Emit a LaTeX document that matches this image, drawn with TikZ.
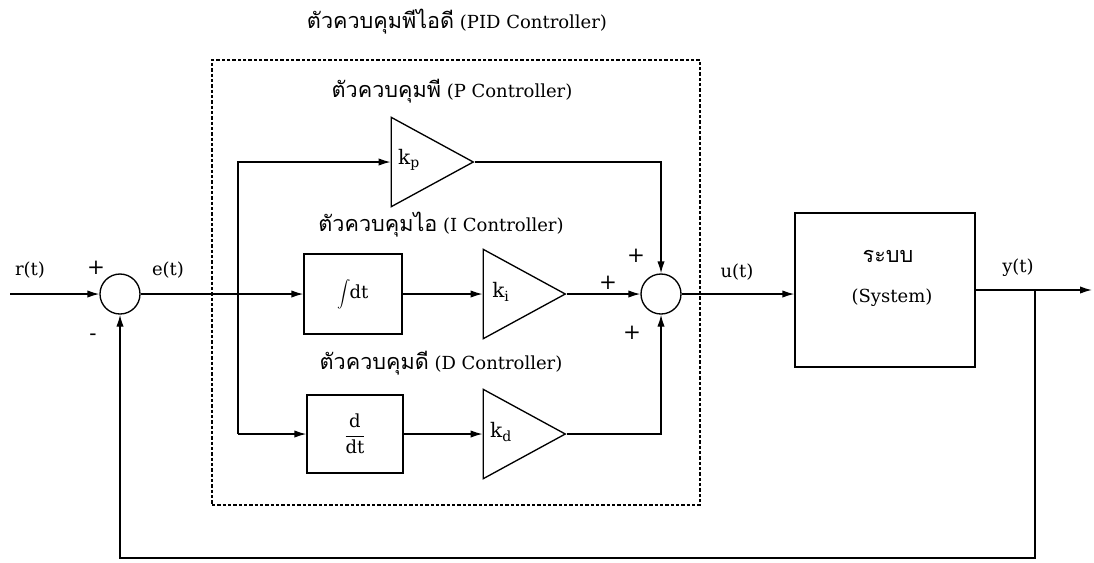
\documentclass[tikz,border=0pt]{standalone}
\usepackage{fontspec}
\setmainfont{DejaVu Serif}
\newfontfamily\thaifont[Script=Thai,Scale=1.2]{Loma}
\usetikzlibrary{arrows.meta,shapes.geometric}
\begin{document}
\begin{tikzpicture}[x=0.75pt,y=-0.75pt,
  every node/.style={font=\fontsize{13.5}{16}\selectfont},
  ln/.style={line width=1pt},
  arr/.style={ln,-{Latex[length=9pt,width=5.5pt]}},
  sumj/.style={circle,draw,line width=1pt,minimum size=30pt,inner sep=0pt},
  blk/.style={rectangle,draw,line width=1pt,inner sep=0pt},
  amp/.style={isosceles triangle,isosceles triangle stretches,shape border rotate=0,draw,line width=1pt,inner sep=0pt,minimum width=67pt,minimum height=61.5pt},
  lbl/.style={inner sep=1pt},
  gain/.style={inner sep=1pt,font=\fontsize{15}{16}\selectfont},
  sgn/.style={inner sep=1pt,font=\fontsize{16}{16}\selectfont},
  pid/.style={draw,line width=0.8pt,dash pattern=on 2.5pt off 1.5pt}]
\useasboundingbox (0,0) rectangle (1094,562);
% PID dashed frame
\node[pid,minimum width=366pt,minimum height=333.75pt,inner sep=0pt] (frame) at (456,282.5) {};
\node[lbl] (tpid) at (457,22) {{\thaifont ตัวควบคุมพีไอดี} (PID Controller)};
\node[lbl] (tp) at (452,91) {{\thaifont ตัวควบคุมพี} (P Controller)};
\node[lbl] (ti) at (441,225) {{\thaifont ตัวควบคุมไอ} (I Controller)};
\node[lbl] (td) at (441,363) {{\thaifont ตัวควบคุมดี} (D Controller)};
% junctions
\node[sumj] (s1) at (120,294) {};
\node[sumj] (s2) at (661,294) {};
% blocks
\node[blk,minimum width=73.5pt,minimum height=60pt] (int) at (353,294) {{\fontsize{13}{14}\selectfont$\displaystyle\int$}\kern-1pt dt};
\node[blk,minimum width=72pt,minimum height=58.5pt] (dd) at (355,434) {$\displaystyle\frac{\mbox{d}}{\mbox{dt}}$};
\node[blk,minimum width=135pt,minimum height=115.5pt] (sys) at (885,290) {};
\node[lbl] (sysa) at (888,256) {\thaifont ระบบ};
\node[lbl] (sysb) at (892,298) {(System)};
% amplifiers
\node[amp,anchor=apex] (kp) at (475,162) {};
\node[amp,anchor=apex] (ki) at (567,294) {};
\node[amp,anchor=apex] (kd) at (567,434) {};
\node[gain] (kpl) at (409,160) {k$_{\mathrm{p}}$};
\node[gain] (kil) at (501,292) {k$_{\mathrm{i}}$};
\node[gain] (kdl) at (501,432) {k$_{\mathrm{d}}$};
% signal labels
\node[lbl] (rl) at (30,270) {r(t)};
\node[lbl] (el) at (168,270) {e(t)};
\node[lbl] (ul) at (737,272) {u(t)};
\node[lbl] (yl) at (1018,268) {y(t)};
\node[sgn] (p1) at (96,268) {+};
\node[sgn] (m1) at (93,337) {-};
\node[sgn] (p2) at (636,256) {+};
\node[sgn] (p3) at (608,283) {+};
\node[sgn] (p4) at (632,333) {+};
% coordinates
\coordinate (rin) at (10,294);
\coordinate (br) at (238,294);
\coordinate (yout) at (1092,290);
\coordinate (fb) at (1035,290);
\coordinate (fbb) at (1035,558);
% connectors
\draw[arr] (rin) -- (s1);
\draw[arr] (s1) -- (int);
\draw[arr] (br) |- (kp.lower side);
\draw[ln] (br) -- (br |- dd.west);
\draw[arr] (br |- dd.west) -- (dd);
\draw[arr] (int) -- (ki.lower side);
\draw[arr] (ki.apex) -- (s2);
\draw[arr] (dd) -- (kd.lower side);
\draw[arr] (kp.apex) -| (s2.north);
\draw[arr] (kd.apex) -| (s2.south);
\draw[arr] (s2) -- (s2 -| sys.west);
\draw[arr] (sys.east) -- (yout);
\draw[arr] (fb) -- (fbb) -| (s1.south);
\end{tikzpicture}
\end{document}
